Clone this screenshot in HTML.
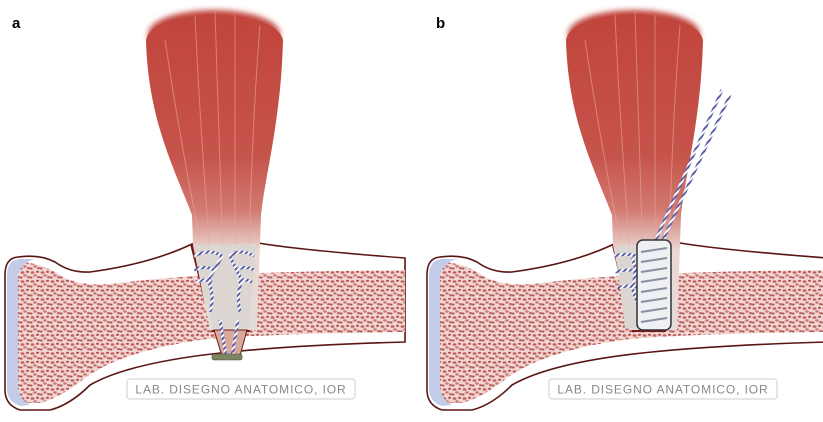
<!DOCTYPE html>
<html><head><meta charset="utf-8"><style>
html,body{margin:0;padding:0;background:#fff;width:823px;height:422px;overflow:hidden}
svg{display:block}
</style></head><body>
<svg width="823" height="422" viewBox="0 0 823 422" xmlns="http://www.w3.org/2000/svg">
<defs>
<pattern id="spong" width="10" height="9" patternUnits="userSpaceOnUse">
<rect width="10" height="9" fill="#f1d6d3"/>
<ellipse cx="2.5" cy="2.5" rx="2" ry="1.3" fill="#c4625e"/>
<ellipse cx="7.5" cy="1.8" rx="1.5" ry="1.1" fill="#b04f4d"/>
<ellipse cx="5" cy="5.5" rx="1.8" ry="1.2" fill="#cc7772"/>
<ellipse cx="1.2" cy="7.5" rx="1.4" ry="1" fill="#a95552"/>
<ellipse cx="8.6" cy="7.2" rx="1.6" ry="1.2" fill="#c06863"/>
</pattern>
<linearGradient id="musc" x1="0" y1="0" x2="0" y2="1">
<stop offset="0" stop-color="#c0443c"/>
<stop offset="0.45" stop-color="#c6544b"/>
<stop offset="0.62" stop-color="#d27a70"/>
<stop offset="0.75" stop-color="#ead8d3"/>
<stop offset="1" stop-color="#e2dcd8"/>
</linearGradient>
<filter id="blur"><feGaussianBlur stdDeviation="3"/></filter>
<pattern id="rope" width="4" height="4" patternUnits="userSpaceOnUse" patternTransform="rotate(45)">
<rect width="4" height="4" fill="#fff"/><rect width="2" height="4" fill="#5a5fa8"/>
</pattern>
<g id="bone">
<path d="M18,257 Q40,254 55,262 Q70,273 90,272 Q150,264 192,244 L192,245 L258,243 Q300,250 405,258 L405,342 Q300,345 230,352 Q130,362 90,385 Q70,405 50,410 L20,410 Q5,405 5,390 L5,275 Q5,258 18,257 Z" fill="#fff" stroke="#5a1515" stroke-width="1.6"/>
<path d="M18,262 Q40,262 60,275 Q80,288 120,283 Q200,272 405,270 L405,332 Q250,334 200,340 Q120,352 85,378 Q60,398 40,403 L20,403 Q16,395 16,385 L16,280 Q16,265 18,262 Z" fill="url(#spong)"/>
<path d="M7,275 Q7,260 20,259 L35,259 Q22,262 18,275 L18,388 Q20,400 30,405 L20,406 Q8,402 7,390 Z" fill="#c2cce8"/>
<rect x="127" y="379" width="228" height="20" rx="3" fill="#fff" stroke="#ccc" stroke-width="1"/>
<text x="241" y="393.5" text-anchor="middle" font-family="Liberation Sans, sans-serif" font-size="12" fill="#888" letter-spacing="0.9">LAB. DISEGNO ANATOMICO, IOR</text>
</g>
<g id="muscle">
<ellipse cx="214" cy="34" rx="66" ry="24" fill="#c0443c" filter="url(#blur)"/>
<path d="M146,40 Q150,18 213,14 Q278,18 283,40 C281,120 266,170 261,215 L257,330 L210,330 L193,245 L192,215 C175,170 148,120 146,40 Z" fill="url(#musc)"/>
<g stroke="#e8a8a0" stroke-width="1" opacity="0.6" fill="none">
<path d="M165,40 Q180,140 200,240"/><path d="M195,15 Q200,130 215,320"/><path d="M235,15 Q235,140 235,320"/><path d="M260,25 Q250,150 248,320"/><path d="M215,12 Q220,150 225,320"/>
</g>
</g>
</defs>
<text x="12" y="28" font-family="Liberation Sans, sans-serif" font-weight="bold" font-size="15">a</text>
<text x="436" y="28" font-family="Liberation Sans, sans-serif" font-weight="bold" font-size="15">b</text>

<use href="#bone"/>
<path d="M190,244 L258,243 L250,332 L212,332 Z" fill="#7a1a18"/>
<use href="#muscle"/>
<path d="M193,245 L256,244 L249,328 L213,328 Z" fill="#dcd6d2"/>
<path d="M214,330 L247,330 L240,356 L222,356 Z" fill="#d8a89c" stroke="#6a1a18" stroke-width="1"/>
<g fill="none" stroke="url(#rope)" stroke-width="3">
<path d="M194,256 Q210,248 222,256 Q215,270 208,280 Q215,295 210,312"/>
<path d="M194,270 Q205,265 215,270"/><path d="M196,282 Q205,278 212,282"/>
<path d="M254,256 Q240,248 230,256 Q236,270 242,280 Q236,295 240,312"/>
<path d="M254,270 Q245,265 236,270"/><path d="M252,282 Q244,278 238,282"/>
<path d="M220,320 L226,356"/><path d="M238,320 L232,356"/>
</g>
<rect x="212" y="354" width="30" height="6" rx="2" fill="#7d8660" stroke="#444" stroke-width="0.6"/>

<g transform="translate(422,0)"><use href="#bone"/></g>
<path d="M612,245 L673,242 L666,332 L632,332 Z" fill="#7a1a18"/>
<g transform="translate(420,0)"><use href="#muscle"/></g>
<path d="M615,246 L640,245 L640,328 L625,328 Z" fill="#dcd6d2"/>
<g fill="none" stroke="url(#rope)" stroke-width="3">
<path d="M614,256 Q630,252 640,258"/><path d="M615,272 Q630,268 640,272"/><path d="M617,288 Q630,284 640,288"/>
<path d="M632,258 Q638,270 632,288 Q640,310 645,326"/>
<path d="M655,242 L722,90"/><path d="M662,242 L730,95"/>
</g>
<rect x="637" y="240" width="34" height="90" rx="6" fill="#eef0f4" stroke="#333" stroke-width="1.5"/>
<g stroke="#8a8fa0" stroke-width="2">
<line x1="641" y1="252" x2="667" y2="248"/><line x1="641" y1="262" x2="667" y2="258"/><line x1="641" y1="272" x2="667" y2="268"/><line x1="641" y1="282" x2="667" y2="278"/><line x1="641" y1="292" x2="667" y2="288"/><line x1="641" y1="302" x2="667" y2="298"/><line x1="641" y1="312" x2="667" y2="308"/><line x1="641" y1="322" x2="667" y2="318"/>
</g>
</svg>
</body></html>
